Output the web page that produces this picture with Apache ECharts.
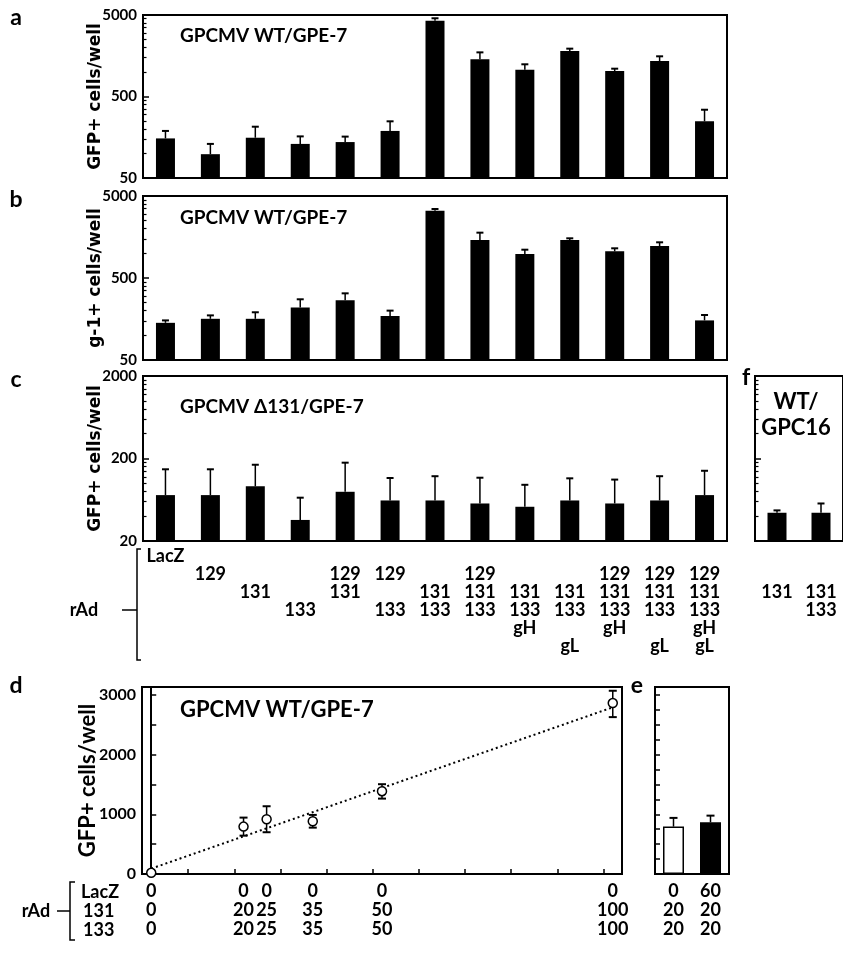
<!DOCTYPE html>
<html><head><meta charset="utf-8">
<script src="https://cdn.jsdelivr.net/npm/echarts@6/dist/echarts.min.js"></script>
<style>html,body{margin:0;padding:0;background:#fff}#c{width:843px;height:953px}</style>
</head><body><div id="c"></div>
<script>
// ---------- data ----------
const categories = ['LacZ','129','131','133','129+131','129+133','131+133','129+131+133','131+133+gH','131+133+gL','129+131+133+gH','129+131+133+gL','129+131+133+gH+gL'];
const rowKeys = ['LacZ','129','131','133','gH','gL'];
const cTable = [['LacZ'],['129'],['131'],['133'],['129','131'],['129','133'],['131','133'],['129','131','133'],['131','133','gH'],['131','133','gL'],['129','131','133','gH'],['129','131','133','gL'],['129','131','133','gH','gL']];
const fCategories = ['131','131+133'];
const fTable = [['131'],['131','133']];

const aValues = [153, 98, 156, 131, 138, 189, 4260, 1430, 1066, 1808, 1028, 1364, 248];
const aErrTop = [189, 131, 213, 162, 161, 248, 4560, 1740, 1242, 1932, 1097, 1556, 344];
const bValues = [142, 159, 159, 219, 267, 172, 3310, 1453, 982, 1453, 1057, 1228, 152];
const bErrTop = [152, 175, 191, 275, 325, 200, 3470, 1786, 1107, 1524, 1151, 1362, 177];
const cValues = [72, 72, 92, 36, 79, 62, 62, 57, 52, 62, 57, 62, 72];
const cErrTop = [148, 148, 168, 67, 178, 116, 122, 117, 96, 115, 111, 122, 142];
const fValues = [44, 44];
const fErrTop = [47, 57];

const dLacZ = [0, 0, 0, 0, 0, 0];
const d131  = [0, 20, 25, 35, 50, 100];
const d133  = [0, 20, 25, 35, 50, 100];
const dMean = [20, 793, 916, 883, 1386, 2861];
const dLow  = [20, 642, 699, 776, 1262, 2626];
const dHigh = [20, 944, 1134, 989, 1503, 3067];
const dTrend = [[0, 90], [100, 2790]];

const eLacZ = [0, 60];
const e131 = [20, 20];
const e133 = [20, 20];
const eValues = [793, 866];
const eErrTop = [939, 977];

const abMajor = [50, 500, 5000];
const abMinor = [100,150,200,250,300,350,400,450,1000,1500,2000,2500,3000,3500,4000,4500];
const cMajor = [20, 200, 2000];
const cMinor = [40,60,80,100,120,140,160,180,400,600,800,1000,1200,1400,1600,1800];
const dYLabels = [0, 1000, 2000, 3000];
const dYTicks = [0, 500, 1000, 1500, 2000, 2500, 3000];
const dXTicks = [8, 18, 28, 38, 48, 58, 68, 78, 88, 98];
const eYTicks = [250,500,750,1000,1250,1500,1750,2000,2250,2500,2750,3000];

// ---------- styles ----------
const CAL = 'Lato, "Open Sans", sans-serif';
const VER = '"DejaVu Sans", Verdana, sans-serif';
const BLACK = '#000';
const plain = v => String(Math.round(v));

function logAxisPair(gi, min, max, major, minor, name, showLabels) {
  const main = {
    type: 'log', logBase: 10, gridIndex: gi, min: min, max: max, position: 'left',
    axisLine: {show: true, lineStyle: {color: BLACK, width: 2}},
    axisTick: {show: true, inside: true, length: 6, lineStyle: {color: BLACK, width: 1.5}, customValues: major},
    axisLabel: {show: showLabels, customValues: major, formatter: plain, color: BLACK, fontFamily: CAL, fontWeight: 'bold', fontSize: 15, margin: 6},
    splitLine: {show: false}, minorTick: {show: false}
  };
  if (name) {
    main.name = name; main.nameLocation = 'middle'; main.nameRotate = 90; main.nameGap = 39;
    main.nameMoveOverlap = false;
    main.nameTextStyle = {color: BLACK, fontFamily: VER, fontWeight: 'bold', fontSize: 17};
  }
  const minorAx = {
    type: 'log', logBase: 10, gridIndex: gi, min: min, max: max, position: 'left', offset: 0,
    axisLine: {show: false},
    axisTick: {show: true, inside: true, length: 3.5, lineStyle: {color: BLACK, width: 1.2}, customValues: minor},
    axisLabel: {show: false}, splitLine: {show: false}
  };
  return [main, minorAx];
}

function tableFormatter(table) {
  return function (value, index) {
    const col = table[index];
    return rowKeys.map(k => col.indexOf(k) >= 0 ? k : ' ').join('\n');
  };
}

function catAxis(gi, data, table) {
  const ax = {
    type: 'category', gridIndex: gi, data: data,
    axisLine: {show: true, lineStyle: {color: BLACK, width: 2}},
    axisTick: {show: false}, splitLine: {show: false},
    axisLabel: {show: false}
  };
  if (table) {
    ax.axisLabel = {show: true, interval: 0, formatter: tableFormatter(table), color: BLACK,
      fontFamily: CAL, fontWeight: 'bold', fontSize: 18, lineHeight: 18, margin: 6, align: 'center', verticalAlign: 'top'};
  }
  return ax;
}

function errRender(capHalf, both) {
  return function (params, api) {
    const x = api.value(0), lo = api.value(1), hi = api.value(2);
    if (hi === lo) return null;
    const pLo = api.coord([x, lo]), pHi = api.coord([x, hi]);
    const st = {stroke: BLACK, lineWidth: 1.5};
    const children = [
      {type: 'line', shape: {x1: pLo[0], y1: pLo[1], x2: pHi[0], y2: pHi[1]}, style: st},
      {type: 'line', shape: {x1: pHi[0] - capHalf, y1: pHi[1], x2: pHi[0] + capHalf, y2: pHi[1]}, style: {stroke: BLACK, lineWidth: 2}}
    ];
    if (both) children.push({type: 'line', shape: {x1: pLo[0] - capHalf, y1: pLo[1], x2: pLo[0] + capHalf, y2: pLo[1]}, style: {stroke: BLACK, lineWidth: 2}});
    return {type: 'group', children: children};
  };
}

function barSeries(xi, yi, values, width) {
  return {type: 'bar', xAxisIndex: xi, yAxisIndex: yi, data: values, barWidth: width,
    itemStyle: {color: BLACK}, clip: true, silent: true, animation: false};
}
function errSeries(xi, yi, lows, highs, capHalf, both, xs) {
  return {type: 'custom', xAxisIndex: xi, yAxisIndex: yi, renderItem: errRender(capHalf, both),
    data: lows.map((v, i) => [xs ? xs[i] : i, v, highs[i]]), z: 3, silent: true, animation: false,
    encode: {x: 0, y: [1, 2]}};
}

const gridBase = {show: true, borderColor: BLACK, borderWidth: 2, backgroundColor: 'transparent'};
const grids = [
  Object.assign({left: 143, top: 15, width: 584, height: 163}, gridBase),
  Object.assign({left: 143, top: 196, width: 584, height: 164}, gridBase),
  Object.assign({left: 143, top: 376, width: 584, height: 165}, gridBase),
  Object.assign({left: 755, top: 376, width: 90, height: 165}, gridBase),
  Object.assign({left: 142, top: 687, width: 480, height: 187}, gridBase),
  Object.assign({left: 655, top: 687, width: 74, height: 187}, gridBase)
];

const xAxes = [
  catAxis(0, categories, null),
  catAxis(1, categories, null),
  catAxis(2, categories, cTable),
  catAxis(3, fCategories, fTable),
  {
    type: 'value', gridIndex: 4, min: -2, max: 102,
    axisLine: {show: true, lineStyle: {color: BLACK, width: 2}},
    axisTick: {show: true, inside: true, length: 5, lineStyle: {color: BLACK, width: 1.5}, customValues: dXTicks},
    axisLabel: {show: true, customValues: d131, color: BLACK, fontFamily: CAL, fontWeight: 'bold', fontSize: 18, lineHeight: 19, margin: 8,
      formatter: function (v) { const i = d131.indexOf(v); return i < 0 ? '' : dLacZ[i] + '\n' + d131[i] + '\n' + d133[i]; }},
    splitLine: {show: false}
  },
  {
    type: 'category', gridIndex: 5, data: eLacZ.map((v, i) => v + '\n' + e131[i] + '\n' + e133[i]),
    axisLine: {show: true, lineStyle: {color: BLACK, width: 2}},
    axisTick: {show: false}, splitLine: {show: false},
    axisLabel: {show: true, interval: 0, color: BLACK, fontFamily: CAL, fontWeight: 'bold', fontSize: 18, lineHeight: 19, margin: 8}
  }
];

const yAxes = [].concat(
  logAxisPair(0, 50, 5000, abMajor, abMinor, 'GFP+ cells/well', true),
  logAxisPair(1, 50, 5000, abMajor, abMinor, 'g-1+ cells/well', true),
  logAxisPair(2, 20, 2000, cMajor, cMinor, 'GFP+ cells/well', true),
  logAxisPair(3, 20, 2000, cMajor, cMinor, null, false),
  [{
    type: 'value', gridIndex: 4, min: 0, max: 3130,
    axisLine: {show: true, lineStyle: {color: BLACK, width: 2}},
    axisTick: {show: true, inside: true, length: 5, lineStyle: {color: BLACK, width: 1.5}, customValues: dYTicks},
    axisLabel: {show: true, customValues: dYLabels, formatter: plain, color: BLACK, fontFamily: CAL, fontWeight: 'bold', fontSize: 16, margin: 6},
    splitLine: {show: false},
    name: 'GFP+ cells/well', nameLocation: 'middle', nameRotate: 90, nameGap: 43, nameMoveOverlap: false,
    nameTextStyle: {color: BLACK, fontFamily: CAL, fontWeight: 'bold', fontSize: 22}
  },
  {
    type: 'value', gridIndex: 5, min: 0, max: 3130,
    axisLine: {show: true, lineStyle: {color: BLACK, width: 2}},
    axisTick: {show: true, inside: true, length: 5, lineStyle: {color: BLACK, width: 1.5}, customValues: eYTicks},
    axisLabel: {show: false}, splitLine: {show: false}
  }]
);

const series = [
  barSeries(0, 0, aValues, 19), errSeries(0, 0, aValues, aErrTop, 3.5, false),
  barSeries(1, 2, bValues, 19), errSeries(1, 2, bValues, bErrTop, 3.5, false),
  barSeries(2, 4, cValues, 19), errSeries(2, 4, cValues, cErrTop, 3.5, false),
  barSeries(3, 6, fValues, 19), errSeries(3, 6, fValues, fErrTop, 3.5, false),
  {type: 'line', xAxisIndex: 4, yAxisIndex: 8, data: dTrend, symbol: 'none', z: 2,
    lineStyle: {color: BLACK, width: 2, type: [2, 3]}, silent: true, animation: false},
  errSeries(4, 8, dLow, dHigh, 4, true, d131),
  {type: 'scatter', xAxisIndex: 4, yAxisIndex: 8, data: d131.map((x, i) => [x, dMean[i]]), symbol: 'circle', symbolSize: 9, z: 4,
    itemStyle: {color: '#fff', borderColor: BLACK, borderWidth: 1.5, opacity: 1}, silent: true, animation: false, clip: false},
  {type: 'bar', xAxisIndex: 5, yAxisIndex: 9, barWidth: 21, silent: true, animation: false,
    data: eValues.map((v, i) => ({value: v, itemStyle: i === 0 ? {color: '#fff', borderColor: BLACK, borderWidth: 1.5} : {color: BLACK}}))},
  errSeries(5, 9, eValues, eErrTop, 4, false)
];

function txt(x, y, s, size, align, family) {
  return {type: 'text', x: x, y: y, z: 100, silent: true,
    style: {text: s, fill: BLACK, fontFamily: family || CAL, fontWeight: 'bold', fontSize: size, align: align || 'center', verticalAlign: 'middle'}};
}
function pl(points, w) {
  return {type: 'polyline', z: 100, silent: true, shape: {points: points}, style: {stroke: BLACK, lineWidth: w || 1.5, fill: null}};
}

const graphic = [
  txt(16, 18, 'a', 23), txt(16, 200, 'b', 23), txt(16, 380, 'c', 23),
  txt(16, 686, 'd', 23), txt(637, 686, 'e', 23), txt(746, 378, 'f', 23),
  txt(180, 36, 'GPCMV WT/GPE-7', 19, 'left'),
  txt(180, 218, 'GPCMV WT/GPE-7', 19, 'left'),
  txt(180, 407, 'GPCMV \u0394131/GPE-7', 19, 'left'),
  txt(180, 710, 'GPCMV WT/GPE-7', 22, 'left'),
  txt(796, 402, 'WT/', 22), txt(796, 428, 'GPC16', 22),
  // upper rAd bracket
  txt(84, 610, 'rAd', 18),
  pl([[122, 610], [137, 610]]),
  pl([[141, 549], [137, 549], [137, 660], [141, 660]]),
  // lower rAd bracket
  txt(36, 911, 'rAd', 18),
  pl([[57, 911], [70, 911]]),
  pl([[75, 882], [70, 882], [70, 940], [75, 940]]),
  txt(81, 892, 'LacZ', 18, 'left'), txt(83, 911, '131', 18, 'left'), txt(83, 930, '133', 18, 'left')
];

const chart = echarts.init(document.getElementById('c'), null, {renderer: 'canvas', width: 843, height: 953});
chart.setOption({
  backgroundColor: '#fff', animation: false,
  grid: grids, xAxis: xAxes, yAxis: yAxes, series: series, graphic: graphic
});
</script></body></html>
